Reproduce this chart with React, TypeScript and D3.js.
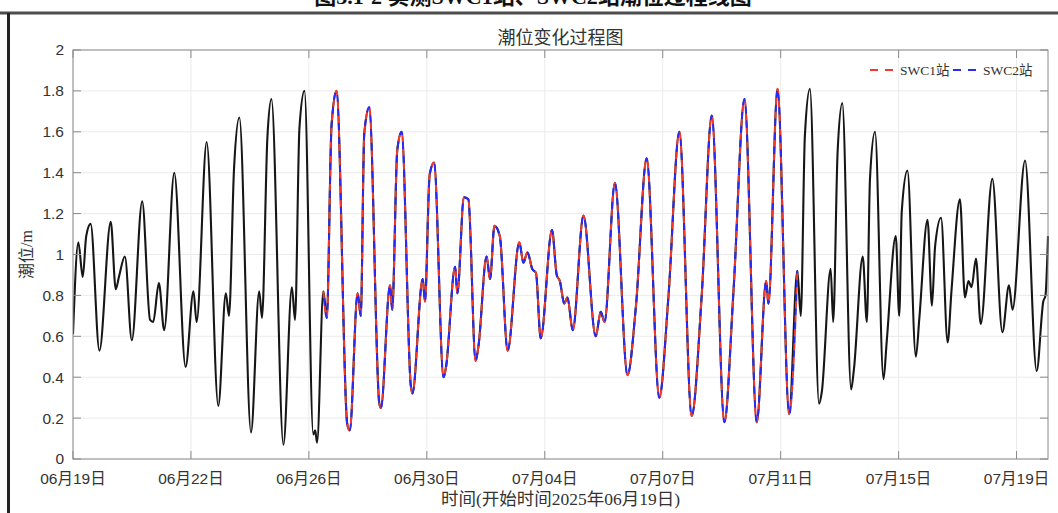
import React from "react";
import * as d3 from "d3";

// ---------- data ----------
const START = Date.UTC(2025, 5, 19); // 2025-06-19 00:00
const DAY = 86400000;

// days since 2025-06-19 00:00
const tideDays = [
  0.0, 0.17, 0.31, 0.42, 0.56, 0.84, 1.2, 1.36, 1.46, 1.65, 1.87, 2.2, 2.45, 2.55, 2.73, 2.9,
  3.22, 3.58, 3.83, 3.93, 4.25, 4.62, 4.86, 4.96, 5.12, 5.29, 5.66, 5.92, 6.01, 6.18, 6.31,
  6.69, 6.96, 7.06, 7.2, 7.36, 7.64, 7.7, 7.76, 7.96, 8.07, 8.22, 8.38, 8.72, 8.8, 9.05, 9.15,
  9.26, 9.42, 9.74, 9.79, 10.08, 10.15, 10.31, 10.45, 10.74, 10.79, 11.12, 11.19, 11.34, 11.48,
  11.78, 11.86, 12.15, 12.22, 12.43, 12.57, 12.8, 12.89, 13.15, 13.26, 13.4, 13.57, 13.82,
  14.19, 14.32, 14.45, 14.6, 14.72, 14.87, 15.23, 15.38, 15.48, 15.62, 15.72, 15.89, 16.23,
  16.62, 16.78, 16.9, 17.23, 17.63, 17.9, 18.24, 18.64, 18.93, 19.28, 19.67, 19.99, 20.31,
  20.71, 21.0, 21.35, 21.74, 22.04, 22.11, 22.4, 22.77, 23.03, 23.14, 23.27, 23.43, 23.72,
  23.81, 24.09, 24.17, 24.31, 24.46, 24.74, 24.83, 25.11, 25.24, 25.34, 25.5, 25.77, 25.87,
  26.16, 26.27, 26.35, 26.53, 26.8, 26.91, 27.17, 27.31, 27.41, 27.6, 27.81, 27.93, 28.2,
  28.36, 28.47, 28.57, 28.71, 28.86, 29.23, 29.55, 29.76, 29.87, 30.27, 30.64, 30.85, 30.92,
  31.0,
];
// tide level (m)
const tideLevels = [
  0.61, 1.06, 0.89, 1.09, 1.15, 0.53, 1.16, 0.83, 0.89, 0.99, 0.58, 1.26, 0.68, 0.67, 0.86, 0.63,
  1.4, 0.45, 0.82, 0.67, 1.55, 0.26, 0.81, 0.7, 1.42, 1.67, 0.13, 0.82, 0.69, 1.57, 1.76,
  0.07, 0.84, 0.68, 1.62, 1.8, 0.12, 0.14, 0.08, 0.82, 0.69, 1.63, 1.8, 0.17, 0.14, 0.81, 0.7,
  1.59, 1.72, 0.27, 0.25, 0.85, 0.73, 1.51, 1.6, 0.36, 0.32, 0.88, 0.77, 1.39, 1.45,
  0.4, 0.45, 0.94, 0.81, 1.28, 1.27, 0.48, 0.55, 0.99, 0.88, 1.14, 1.09, 0.53,
  1.06, 0.96, 1.01, 0.93, 0.91, 0.59, 1.12, 0.9, 0.87, 0.76, 0.79, 0.63, 1.19,
  0.6, 0.72, 0.67, 1.35, 0.41, 0.75, 1.47, 0.3, 0.79, 1.6, 0.21, 0.8, 1.68,
  0.18, 0.82, 1.76, 0.18, 0.87, 0.76, 1.81, 0.22, 0.92, 0.7, 1.58, 1.81, 0.27,
  0.33, 0.93, 0.67, 1.5, 1.74, 0.34, 0.44, 0.99, 0.67, 1.37, 1.6, 0.39, 0.57,
  1.09, 0.7, 1.21, 1.41, 0.5, 0.69, 1.17, 0.75, 1.04, 1.18, 0.57, 0.82, 1.27,
  0.79, 0.87, 0.84, 0.98, 0.66, 1.37, 0.62, 0.85, 0.73, 1.46, 0.43, 0.77, 0.8,
  1.09,
];

// observed station spans (days since start)
const swc1Span = [7.96, 23.03];
const swc2Span = [7.96, 23.03];
const seriesNames = ["SWC1站", "SWC2站"];
const seriesColors = ["#f03a2e", "#2a2af5"];

const xTickDays = [0, 3.75, 7.5, 11.25, 15, 18.75, 22.5, 26.25, 30];
const xTickLabels = [
  "06月19日", "06月22日", "06月26日", "06月30日", "07月04日",
  "07月07日", "07月11日", "07月15日", "07月19日",
];
const yTicks = [0, 0.2, 0.4, 0.6, 0.8, 1, 1.2, 1.4, 1.6, 1.8, 2];
const yTickLabels = ["0", "0.2", "0.4", "0.6", "0.8", "1", "1.2", "1.4", "1.6", "1.8", "2"];

const chartTitle = "潮位变化过程图";
const xLabel = "时间(开始时间2025年06月19日)";
const yLabel = "潮位/m";
const figureCaption = "图3.1-2  实测SWC1站、SWC2站潮位过程线图";

// ---------- layout ----------
const W = 1058;
const H = 513;
const L = 73, R = 1048, T = 50, B = 459;

export default function App() {
  const x = d3.scaleUtc().domain([new Date(START), new Date(START + 31 * DAY)]).range([L, R]);
  const y = d3.scaleLinear().domain([0, 2]).range([B, T]);
  const pts: [Date, number][] = tideDays.map((d, i) => [new Date(START + d * DAY), tideLevels[i]]);
  const line = d3
    .line<[Date, number]>()
    .x((d) => x(d[0]))
    .y((d) => y(d[1]))
    .curve(d3.curveMonotoneX);
  const spanPts = (s: number[]) =>
    pts.filter((p, i) => tideDays[i] >= s[0] - 1e-9 && tideDays[i] <= s[1] + 1e-9);
  const blackPath = line(pts) || "";
  const p1 = line(spanPts(swc1Span)) || "";
  const p2 = line(spanPts(swc2Span)) || "";
  const sans = "'Liberation Sans', Arial, 'Noto Sans CJK SC', sans-serif";
  const serif = "'Liberation Serif', 'Times New Roman', 'Noto Sans CJK SC', serif";
  const axisColor = "#8a8a8a";
  const textColor = "#333";
  const tickLen = 8;
  const xTickPos = xTickDays.map((d) => x(new Date(START + d * DAY)));

  return (
    <div style={{ position: "absolute", left: 0, top: 0 }}>
      <svg width={W} height={H} style={{ display: "block", background: "#fff" }}>
        <defs>
          <clipPath id="plotclip">
            <rect x={L} y={T - 2} width={R - L + 4} height={B - T + 4} />
          </clipPath>
        </defs>
        {/* page fragments */}
        <text x={533} y={4} textAnchor="middle" fontFamily={serif} fontWeight="bold" fontSize={22} fill="#111">
          {figureCaption}
        </text>
        <rect x={0} y={11.5} width={W} height={3} fill="#4d4d4d" />
        <rect x={7} y={13} width={3} height={H - 13} fill="#222" />

        {/* grid */}
        {yTicks.map((t, i) => (
          <line key={"gy" + i} x1={L} x2={R} y1={y(t)} y2={y(t)} stroke="#ebebeb" strokeWidth={1} />
        ))}
        {xTickPos.map((px, i) => (
          <line key={"gx" + i} x1={px} x2={px} y1={T} y2={B} stroke="#ebebeb" strokeWidth={1} />
        ))}

        {/* series */}
        <g clipPath="url(#plotclip)" fill="none">
          <path d={blackPath} stroke="#161616" strokeWidth={2.1} strokeLinejoin="round" />
          <path d={p1} stroke={seriesColors[0]} strokeWidth={2} strokeDasharray="7 7" />
          <path d={p2} stroke={seriesColors[1]} strokeWidth={2} strokeDasharray="7 7" strokeDashoffset={7} />
        </g>

        {/* axes box */}
        <rect x={L} y={T} width={R - L} height={B - T} fill="none" stroke={axisColor} strokeWidth={1} />
        {yTicks.map((t, i) => (
          <g key={"yt" + i}>
            <line x1={L} x2={L + tickLen} y1={y(t)} y2={y(t)} stroke={axisColor} />
            <line x1={R} x2={R - tickLen} y1={y(t)} y2={y(t)} stroke={axisColor} />
            <text x={L - 9} y={y(t)} dy="0.35em" textAnchor="end" fontFamily={sans} fontSize={15.5} fill={textColor}>
              {yTickLabels[i]}
            </text>
          </g>
        ))}
        {xTickPos.map((px, i) => (
          <g key={"xt" + i}>
            <line x1={px} x2={px} y1={B} y2={B - tickLen} stroke={axisColor} />
            <line x1={px} x2={px} y1={T} y2={T + tickLen} stroke={axisColor} />
            <text x={px} y={484} textAnchor="middle" fontFamily={sans} fontSize={15.5} fill={textColor}>
              {xTickLabels[i]}
            </text>
          </g>
        ))}

        {/* titles */}
        <text x={(L + R) / 2} y={44} textAnchor="middle" fontFamily={serif} fontSize={18} fill={textColor}>
          {chartTitle}
        </text>
        <text x={(L + R) / 2} y={505} textAnchor="middle" fontFamily={serif} fontSize={17.5} fill={textColor}>
          {xLabel}
        </text>
        <text
          transform={`translate(32,${(T + B) / 2}) rotate(-90)`}
          textAnchor="middle"
          fontFamily={serif}
          fontSize={16}
          fill={textColor}
        >
          {yLabel}
        </text>

        {/* legend */}
        {seriesNames.map((n, i) => {
          const x0 = i === 0 ? 870 : 953;
          return (
            <g key={"lg" + i}>
              <line x1={x0} x2={x0 + 23} y1={70} y2={70} stroke={seriesColors[i]} strokeWidth={2} strokeDasharray="8 7" />
              <text x={x0 + 30} y={75} fontFamily={serif} fontSize={13.5} fill={textColor}>
                {n}
              </text>
            </g>
          );
        })}
      </svg>
    </div>
  );
}
